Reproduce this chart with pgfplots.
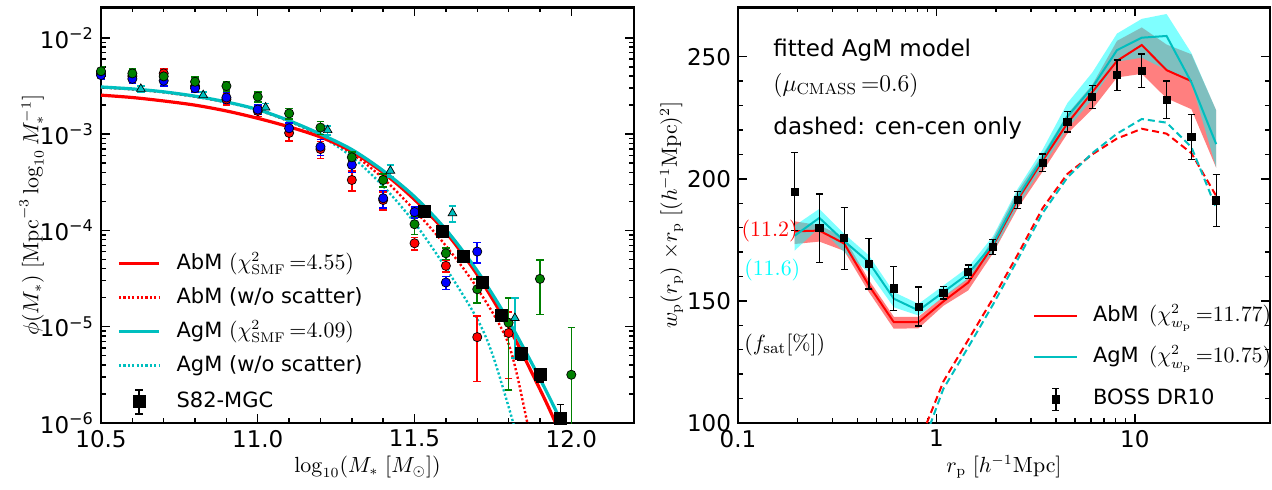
\documentclass[border=0pt]{standalone}
\usepackage[no-math]{fontspec}
\setmainfont{DejaVu Sans}
\usepackage{pgfplots}
\pgfplotsset{compat=1.18}
\usepackage{pgfplotstable}

\definecolor{mred}{rgb}{1,0,0}
\definecolor{mblue}{rgb}{0,0,1}
\definecolor{mgreen}{rgb}{0,0.5,0}
\definecolor{mcyan}{rgb}{0,0.75,0.75}
\definecolor{bcyan}{rgb}{0,1,1}

% projected correlation function: data, model lines, cen-cen terms
\pgfplotstableread{
rp     wp     err   abm   agm   abmcc agmcc
0.193  194.7  16.0  178.5 176.7 nan   nan
0.257  179.8  14.0  178.8 184.0 nan   nan
0.343  175.7  12.7  173.5 174.5 nan   nan
0.457  165.3  10.4  156.3 165.8 nan   nan
0.610  155.1  9.0   141.3 150.9 nan   nan
0.813  147.7  8.0   141.3 146.1 91.6  86.5
1.084  153.4  2.6   149.8 153.6 117.0 114.0
1.445  161.9  2.8   157.5 161.1 134.0 131.0
1.928  172.1  3.0   172.6 173.3 151.0 148.5
2.57   191.4  3.5   191.5 192.5 169.0 167.0
3.43   206.6  3.6   207.5 208.5 188.0 186.0
4.57   223.4  4.2   222.7 225.5 202.0 200.5
6.10   233.5  4.8   235.5 237.4 210.0 210.5
8.13   242.5  6.2   248.3 252.7 216.5 218.5
10.84  244.3  6.8   254.8 257.8 220.5 224.5
14.45  232.4  7.7   244.5 258.5 218.5 223.0
19.28  217.2  9.2   240.0 239.5 210.5 213.0
25.7   191.2  10.7  nan   214.2 193.0 188.0
}\wptab

% model ranges as closed outlines: upper edge outward, lower edge back
\pgfplotstableread{
rp     w
0.193  182.6
0.257  181.0
0.343  176.0
0.457  158.5
0.610  143.5
0.813  143.5
1.084  151.8
1.445  159.3
1.928  175.5
2.57   195.0
3.43   210.0
4.57   226.5
6.10   238.5
8.13   256.5
10.84  262.0
14.45  255.0
19.28  251.0
25.7   228.0
25.7   204.5
19.28  228.5
14.45  233.0
10.84  243.0
8.13   241.5
6.10   228.5
4.57   218.5
3.43   203.0
2.57   188.0
1.928  169.5
1.445  154.3
1.084  148.0
0.813  138.8
0.610  138.6
0.457  153.6
0.343  170.5
0.257  174.3
0.193  173.3
}\abmband

\pgfplotstableread{
rp     w
0.193  180.8
0.257  187.7
0.343  177.5
0.457  168.6
0.610  153.6
0.813  148.8
1.084  156.3
1.445  163.8
1.928  176.5
2.57   196.0
3.43   212.0
4.57   231.0
6.10   243.5
8.13   259.5
10.84  265.5
14.45  267.5
19.28  251.5
25.7   228.0
25.7   204.5
19.28  239.5
14.45  244.5
10.84  249.6
8.13   248.0
6.10   232.5
4.57   220.5
3.43   205.0
2.57   189.0
1.928  170.0
1.445  159.0
1.084  151.5
0.813  144.0
0.610  147.4
0.457  161.7
0.343  170.0
0.257  180.0
0.193  170.6
}\agmband

% green SMF points: x, phi, upper and lower error
\pgfplotstableread{
x     y        ep       em
10.5  4.50e-3  0.5e-3   0.5e-3
10.6  4.27e-3  0.5e-3   0.5e-3
10.7  3.98e-3  0.45e-3  0.45e-3
10.8  3.50e-3  0.4e-3   0.4e-3
10.9  3.16e-3  0.35e-3  0.35e-3
11.0  2.45e-3  0.3e-3   0.3e-3
11.1  1.64e-3  0.2e-3   0.2e-3
11.2  1.17e-3  0.18e-3  0.18e-3
11.3  5.75e-4  0.8e-4   0.8e-4
11.4  3.34e-4  0.5e-4   0.5e-4
11.5  1.16e-4  0.25e-4  0.25e-4
11.6  5.79e-5  0.8e-5   0.8e-5
11.7  2.45e-5  0.68e-5  0.68e-5
11.8  1.1e-5   0.88e-5  0.88e-5
11.9  3.14e-5  1.8e-5   1.8e-5
12.0  3.17e-6  6.6e-6   2.67e-6
}\greentab

\tikzset{annot/.style={anchor=west, inner sep=0pt}}

\pgfplotsset{
  mpl/.style={
    scale only axis,
    axis line style={line width=1.1pt},
    every tick/.style={black, line width=0.7pt},
    major tick length=4.5pt,
    minor tick length=2.4pt,
    tick align=inside,
    tick label style={font=\fontsize{11.5}{14}\selectfont},
    label style={font=\fontsize{10.5}{12}\selectfont},
    legend cell align=left,
  },
  circ/.style={only marks, mark=*, mark size=2.3pt,
    mark options={fill=#1, draw=black, line width=0.35pt},
    error bars/.cd, y dir=both, y explicit,
    error bar style={draw=#1, line width=0.8pt},
    error mark options={draw=#1, mark size=1.9pt, rotate=90, line width=0.8pt}},
}

\begin{document}
\begin{tikzpicture}
\path[use as bounding box] (-50.5pt,-33pt) rectangle (585.5pt,211.5pt);

%% ---------------- stellar mass function ----------------
\begin{axis}[mpl,
  at={(0pt,0pt)}, anchor=south west,
  width=266.5pt, height=207.8pt,
  xmin=10.5, xmax=12.2,
  ymode=log, ymin=1e-6, ymax=2.07e-2,
  xtick={10.5,11.0,11.5,12.0}, xticklabels={10.5,11.0,11.5,12.0},
  minor x tick num=4,
  ytick={1e-6,1e-5,1e-4,1e-3,1e-2},
  yticklabels={10\textsuperscript{−6},10\textsuperscript{−5},10\textsuperscript{−4},10\textsuperscript{−3},10\textsuperscript{−2}},
  xlabel={$\log_{10}(M_*\ [M_\odot])$},
  ylabel={$\phi(M_*)\ [\mathrm{Mpc}^{-3}\log_{10}M_*^{-1}]$},
  xlabel style={at={(axis description cs:0.5,-0.106)}, anchor=center},
  ylabel style={at={(axis description cs:-0.13,0.5)}, anchor=center},
  legend image code/.code={\draw[#1] (0pt,0pt) -- (20pt,0pt);},
  legend style={draw=none, fill=none, at={(axis description cs:0.03,0.41)},
    anchor=north west, row sep=6.5pt, inner sep=0pt,
    /tikz/every odd column/.append style={column sep=8pt},
    nodes={inner sep=0pt, text height=8pt, text depth=2.5pt,
      font=\fontsize{10.5}{13}\selectfont}},
]
% AgM without scatter
\addplot[forget plot, mcyan, line width=1.2pt, dash pattern=on 1.1pt off 1.1pt, smooth] coordinates {
(10.50,3.05e-3) (10.60,2.92e-3) (10.70,2.72e-3) (10.80,2.45e-3) (10.90,2.14e-3)
(11.00,1.78e-3) (11.10,1.36e-3) (11.20,9.55e-4) (11.30,5.82e-4) (11.40,2.88e-4)
(11.50,1.20e-4) (11.60,4.07e-5) (11.70,1.20e-5) (11.75,5.0e-6) (11.815,1.0e-6) (11.83,6e-7)};
% AbM without scatter
\addplot[forget plot, mred, line width=1.2pt, dash pattern=on 1.1pt off 1.1pt, smooth] coordinates {
(10.50,3.05e-3) (10.60,2.92e-3) (10.70,2.72e-3) (10.80,2.45e-3) (10.90,2.14e-3)
(11.00,1.78e-3) (11.10,1.36e-3) (11.20,9.77e-4) (11.30,6.31e-4) (11.40,3.47e-4)
(11.50,1.62e-4) (11.60,6.92e-5) (11.70,2.51e-5) (11.80,6.61e-6) (11.86,1.0e-6) (11.88,5e-7)};
% AbM
\addplot[forget plot, mred, line width=1.6pt, smooth] coordinates {
(10.50,2.54e-3) (10.60,2.40e-3) (10.70,2.21e-3) (10.80,2.00e-3) (10.90,1.74e-3)
(11.00,1.46e-3) (11.10,1.19e-3) (11.20,9.33e-4) (11.30,6.61e-4) (11.40,3.98e-4)
(11.50,2.09e-4) (11.60,9.55e-5) (11.70,3.47e-5) (11.80,1.00e-5) (11.90,2.24e-6)
(11.95,1.0e-6) (12.0,4e-7)};
% AgM
\addplot[forget plot, mcyan, line width=1.6pt, smooth] coordinates {
(10.50,3.09e-3) (10.60,2.95e-3) (10.70,2.75e-3) (10.80,2.48e-3) (10.90,2.16e-3)
(11.00,1.80e-3) (11.10,1.38e-3) (11.20,1.00e-3) (11.30,6.92e-4) (11.40,4.17e-4)
(11.50,2.24e-4) (11.60,1.02e-4) (11.70,3.80e-5) (11.80,1.15e-5) (11.90,2.88e-6)
(11.97,1.0e-6) (12.0,6e-7)};

% SMF measurements
\addplot[forget plot, circ=mred] coordinates {
(10.5,4.30e-3) +- (0,0.5e-3)  (10.6,4.00e-3) +- (0,0.5e-3)
(10.7,4.27e-3) +- (0,0.5e-3)  (10.8,3.15e-3) +- (0,0.4e-3)
(10.9,2.30e-3) +- (0,0.3e-3)  (11.0,1.74e-3) +- (0,0.22e-3)
(11.1,1.03e-3) +- (0,0.18e-3) (11.2,7.0e-4) +- (0,1.4e-4)
(11.3,3.34e-4) +- (0,0.78e-4) (11.4,2.07e-4) +- (0,0.45e-4)
(11.5,7.36e-5) +- (0,1.1e-5)  (11.6,4.29e-5) +- (0,0.6e-5)
(11.7,7.8e-6) +- (0,5.1e-6)   (11.8,8.6e-6) +- (0,5.7e-6)};
\addplot[forget plot, circ=mblue] coordinates {
(10.5,4.10e-3) +- (0,0.4e-3)  (10.6,3.75e-3) +- (0,0.4e-3)
(10.7,3.58e-3) +- (0,0.4e-3)  (10.8,3.00e-3) +- (0,0.3e-3)
(10.9,2.40e-3) +- (0,0.3e-3)  (11.0,1.80e-3) +- (0,0.2e-3)
(11.1,1.15e-3) +- (0,0.15e-3) (11.2,7.4e-4) +- (0,1.4e-4)
(11.3,4.8e-4) +- (0,0.8e-4)   (11.4,2.16e-4) +- (0,0.45e-4)
(11.5,1.55e-4) +- (0,0.2e-4)  (11.6,2.88e-5) +- (0,0.45e-5)
(11.7,6.03e-5) +- (0,1.45e-5)};
\addplot[forget plot, circ=mgreen]
  table[x=x, y=y, y error plus=ep, y error minus=em] {\greentab};
\addplot[forget plot, only marks, mark=triangle*, mark size=2.5pt,
  mark options={fill=mcyan, draw=black, line width=0.35pt},
  error bars/.cd, y dir=both, y explicit,
  error bar style={draw=mcyan, line width=0.8pt},
  error mark options={draw=mcyan, mark size=1.9pt, rotate=90, line width=0.8pt}] coordinates {
(10.627,2.95e-3) +- (0,0.2e-3)  (10.826,2.54e-3) +- (0,0.2e-3)
(11.025,1.89e-3) +- (0,0.2e-3)  (11.223,1.10e-3) +- (0,0.12e-3)
(11.423,4.17e-4) +- (0,0.6e-4)  (11.621,1.51e-4) +- (0,0.28e-4)
(11.82,1.23e-5) +- (0,0.76e-5)};
% S82-MGC
\addplot[forget plot, only marks, mark=square*, mark size=3pt, black,
  error bars/.cd, y dir=both, y explicit,
  error bar style={black, line width=0.8pt},
  error mark options={black, mark size=1.9pt, rotate=90, line width=0.8pt}] coordinates {
(11.530,1.57e-4) +- (0,0.1e-4)  (11.590,9.7e-5) +- (0,0.6e-5)
(11.655,5.43e-5) +- (0,0.4e-5)  (11.717,2.90e-5) +- (0,0.2e-5)
(11.778,1.31e-5) +- (0,0.12e-5) (11.840,5.24e-6) +- (0,0.8e-6)
(11.900,3.17e-6) +- (0,0.5e-6)  (11.965,1.13e-6) +- (0,0.42e-6)};

\addlegendimage{mred, line width=1.6pt}
\addlegendentry{AbM $(\chi^2_{\mathrm{SMF}}\,{=}4.55)$}
\addlegendimage{mred, line width=1.2pt, dash pattern=on 1.1pt off 1.1pt}
\addlegendentry{AbM (w/o scatter)}
\addlegendimage{mcyan, line width=1.6pt}
\addlegendentry{AgM $(\chi^2_{\mathrm{SMF}}\,{=}4.09)$}
\addlegendimage{mcyan, line width=1.2pt, dash pattern=on 1.1pt off 1.1pt}
\addlegendentry{AgM (w/o scatter)}
\addlegendimage{legend image code/.code={
  \draw[black, line width=0.8pt] (10pt,-6pt) -- (10pt,6pt)
     (8.1pt,-6pt) -- (11.9pt,-6pt) (8.1pt,6pt) -- (11.9pt,6pt);
  \fill[black] (7pt,-3pt) rectangle (13pt,3pt);}}
\addlegendentry{S82-MGC}
\end{axis}

%% ---------------- projected correlation function ----------------
\begin{axis}[mpl,
  at={(318.5pt,0pt)}, anchor=south west,
  width=266pt, height=207.8pt,
  xmode=log, xmin=0.1, xmax=48,
  ymin=100, ymax=270.2,
  xtick={0.1,1,10}, xticklabels={0.1,1,10},
  ytick={100,150,200,250}, yticklabels={100,150,200,250},
  minor y tick num=4,
  xlabel={$r_{\mathrm{p}}\ [h^{-1}\mathrm{Mpc}]$},
  ylabel={$w_{\mathrm{p}}(r_{\mathrm{p}})\ {\times} r_{\mathrm{p}}\ [(h^{-1}\mathrm{Mpc})^2]$},
  xlabel style={at={(axis description cs:0.5,-0.106)}, anchor=center},
  ylabel style={at={(axis description cs:-0.125,0.5)}, anchor=center},
  legend image code/.code={\draw[#1] (0pt,0pt) -- (21.5pt,0pt);},
  legend style={draw=none, fill=none, at={(axis description cs:0.5545,0.283)},
    anchor=north west, row sep=10pt, inner sep=0pt,
    /tikz/every odd column/.append style={column sep=7.3pt},
    nodes={inner sep=0pt, text height=8pt, text depth=2.5pt,
      font=\fontsize{10.5}{13}\selectfont}},
]
\addplot[forget plot, fill=mred, fill opacity=0.5, draw=none] table[x=rp, y=w] {\abmband};
\addplot[forget plot, fill=bcyan, fill opacity=0.5, draw=none] table[x=rp, y=w] {\agmband};

\addplot[forget plot, mred, line width=1pt, dash pattern=on 3.5pt off 2pt] table[x=rp, y=abmcc] {\wptab};
\addplot[forget plot, mcyan, line width=1pt, dash pattern=on 3.5pt off 2pt] table[x=rp, y=agmcc] {\wptab};
\addplot[forget plot, mred, line width=1pt] table[x=rp, y=abm] {\wptab};
\addplot[forget plot, mcyan, line width=1pt] table[x=rp, y=agm] {\wptab};

\addplot[forget plot, only marks, mark=square*, mark size=1.8pt, black,
  error bars/.cd, y dir=both, y explicit,
  error bar style={black, line width=0.6pt},
  error mark options={black, mark size=1.75pt, rotate=90, line width=0.6pt}]
  table[x=rp, y=wp, y error=err] {\wptab};

\node[annot, font=\fontsize{11.5}{14}\selectfont] at (axis description cs:0.0658,0.897) {fitted AgM model};
\node[annot, font=\fontsize{11.5}{14}\selectfont] at (axis description cs:0.0658,0.813) {$(\mu_{\mathrm{CMASS}}\,{=}0.6)$};
\node[annot, font=\fontsize{11.5}{14}\selectfont] at (axis description cs:0.0658,0.710) {dashed: cen-cen only};
\node[annot, text=mred, font=\fontsize{11}{13}\selectfont] at (axis description cs:0.006,0.462) {$(11.2)$};
\node[annot, text=bcyan, font=\fontsize{11}{13}\selectfont] at (axis description cs:0.011,0.368) {$(11.6)$};
\node[annot, font=\fontsize{11}{13}\selectfont] at (axis description cs:0.011,0.188) {$(f_{\mathrm{sat}}[\%])$};

\addlegendimage{mred, line width=1pt}
\addlegendentry{AbM\hspace{5pt}$(\chi^2_{w_{\mathrm{p}}}\,{=}11.77)$}
\addlegendimage{mcyan, line width=1pt}
\addlegendentry{AgM\hspace{5pt}$(\chi^2_{w_{\mathrm{p}}}\,{=}10.75)$}
\addlegendimage{legend image code/.code={
  \draw[black, line width=0.6pt] (10.75pt,-5.5pt) -- (10.75pt,5.5pt)
     (9pt,-5.5pt) -- (12.5pt,-5.5pt) (9pt,5.5pt) -- (12.5pt,5.5pt);
  \fill[black] (8.95pt,-1.8pt) rectangle (12.55pt,1.8pt);}}
\addlegendentry{BOSS DR10}
\end{axis}
\end{tikzpicture}
\end{document}
